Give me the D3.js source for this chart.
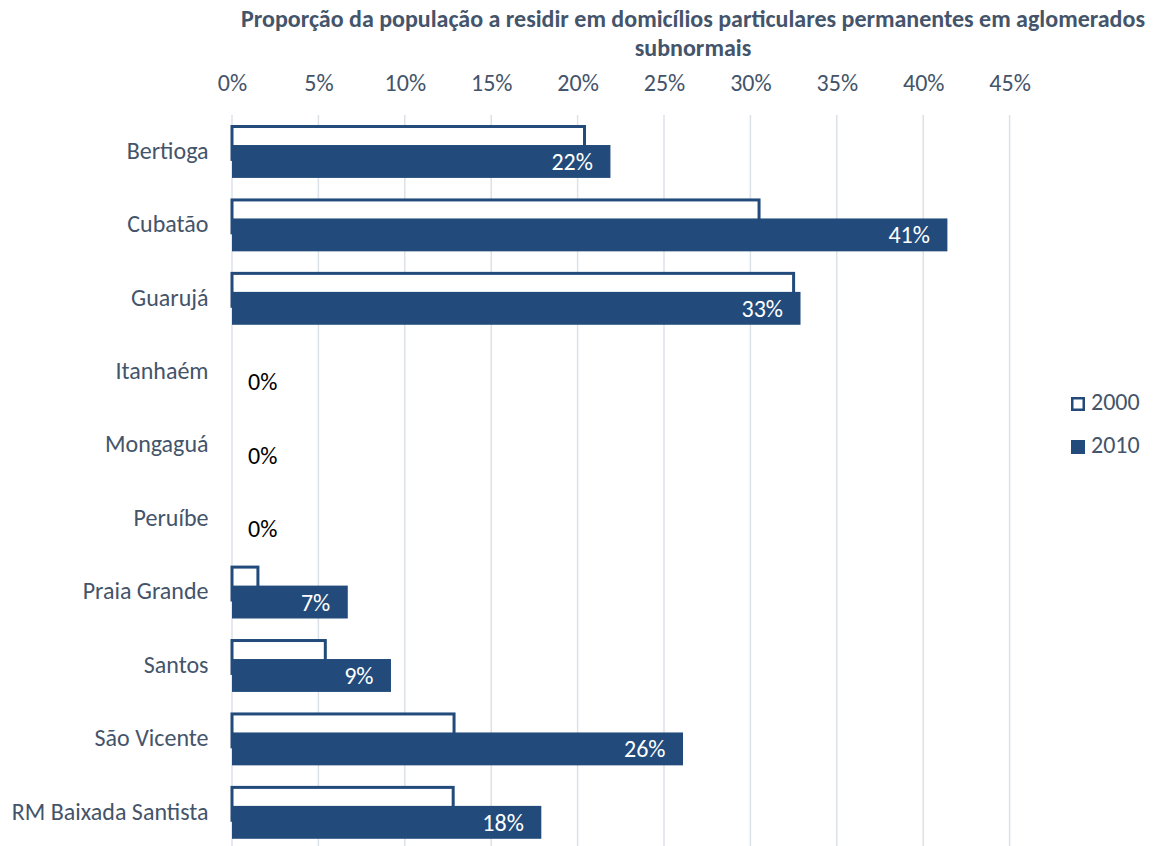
<!DOCTYPE html>
<html>
<head>
<meta charset="utf-8">
<script src="https://cdn.jsdelivr.net/npm/d3@7"></script>
<style>
  body { margin: 0; background: #fff; }
  svg { display: block; }
  svg text { font-family: Carlito, Calibri, Lato, sans-serif; }
</style>
</head>
<body>
<div id="chart"></div>
<script>
// data
const categories = ["Bertioga", "Cubatão", "Guarujá", "Itanhaém", "Mongaguá", "Peruíbe",
    "Praia Grande", "Santos", "São Vicente", "RM Baixada Santista"];
const years = ["2000", "2010"];
const values2000 = [20.4, 30.5, 32.5, 0, 0, 0, 1.5, 5.4, 12.85, 12.8];
const values2010 = [21.9, 41.4, 32.9, 0, 0, 0, 6.7, 9.2, 26.1, 17.9];
const xTicks = [0, 5, 10, 15, 20, 25, 30, 35, 40, 45];
const titleLines = ["Proporção da população a residir em domicílios particulares permanentes em aglomerados",
    "subnormais"];

const width = 1157, height = 846;
const barColor = "#224B7B";
const textColor = "#44546A";
const gridColor = "#DCE1E8";
const fontSize = "24px";

const svg = d3.select("#chart").append("svg")
    .attr("width", width)
    .attr("height", height);

const x = d3.scaleLinear().domain([0, 45]).range([232, 1009.6]);
const y = d3.scaleBand().domain(categories)
    .range([115.5, 849.8])
    .paddingInner(0.3)
    .paddingOuter(0.15);

const barH = y.bandwidth() * 0.64;
const offset = y.bandwidth() - barH;

// title
svg.append("g").selectAll("text")
    .data(titleLines)
    .enter()
    .append("text")
    .attr("x", 693)
    .attr("y", (d, i) => 27 + i * 29)
    .attr("text-anchor", "middle")
    .style("font-size", fontSize)
    .style("font-weight", "bold")
    .style("fill", textColor)
    .text(d => d);

// gridlines
svg.append("g").selectAll("line")
    .data(xTicks)
    .enter()
    .append("line")
    .attr("x1", d => x(d)).attr("x2", d => x(d))
    .attr("y1", 115).attr("y2", height)
    .attr("stroke", gridColor)
    .attr("stroke-width", 1.5);

// top axis labels
const xAxis = d3.axisTop(x).tickValues(xTicks).tickFormat(d => d + "%").tickSize(0).tickPadding(0);
const gx = svg.append("g").attr("transform", "translate(0,91)").call(xAxis)
    .attr("font-family", null).attr("font-size", null);
gx.select(".domain").remove();
gx.selectAll("text")
    .attr("dy", 0)
    .style("font-size", fontSize)
    .style("fill", textColor);

// category labels
const yAxis = d3.axisLeft(y).tickSize(0).tickPadding(0);
const gy = svg.append("g").attr("transform", "translate(208.5,0)").call(yAxis)
    .attr("font-family", null).attr("font-size", null);
gy.select(".domain").remove();
gy.selectAll("text")
    .attr("dy", 6.5)
    .style("font-size", fontSize)
    .style("fill", textColor);

// 2000 bars (outlined)
svg.append("g").selectAll("rect")
    .data(values2000.map((v, i) => ({ cat: categories[i], v })))
    .enter()
    .filter(d => d.v > 0)
    .append("rect")
    .attr("x", x(0))
    .attr("y", d => y(d.cat))
    .attr("width", d => x(d.v) - x(0))
    .attr("height", barH)
    .attr("fill", "#fff")
    .attr("stroke", barColor)
    .attr("stroke-width", 3);

// 2010 bars (filled)
svg.append("g").selectAll("rect")
    .data(values2010.map((v, i) => ({ cat: categories[i], v })))
    .enter()
    .filter(d => d.v > 0)
    .append("rect")
    .attr("x", x(0))
    .attr("y", d => y(d.cat) + offset)
    .attr("width", d => x(d.v) - x(0))
    .attr("height", barH)
    .attr("fill", barColor);

// 2010 value labels
svg.append("g").selectAll("text")
    .data(values2010.map((v, i) => ({ cat: categories[i], v })))
    .enter()
    .append("text")
    .attr("x", d => d.v > 0 ? x(d.v) - 17.5 : x(0) + 16)
    .attr("y", d => y(d.cat) + offset + barH / 2 + 8.5)
    .attr("text-anchor", d => d.v > 0 ? "end" : "start")
    .style("font-size", fontSize)
    .style("fill", d => d.v > 0 ? "#fff" : "#000")
    .text(d => Math.round(d.v) + "%");

// legend
const legend = svg.append("g").selectAll("g")
    .data(years)
    .enter()
    .append("g")
    .attr("transform", (d, i) => `translate(1071,${397 + i * 43})`);

legend.append("rect")
    .attr("x", d => d === "2000" ? 1.25 : 0)
    .attr("y", d => d === "2000" ? 1.25 : 0)
    .attr("width", d => d === "2000" ? 11.5 : 14)
    .attr("height", d => d === "2000" ? 11.5 : 14)
    .attr("fill", d => d === "2000" ? "#fff" : barColor)
    .attr("stroke", d => d === "2000" ? barColor : "none")
    .attr("stroke-width", 2.5);

legend.append("text")
    .attr("x", 20)
    .attr("y", 12.5)
    .style("font-size", fontSize)
    .style("fill", textColor)
    .text(d => d);
</script>
</body>
</html>
